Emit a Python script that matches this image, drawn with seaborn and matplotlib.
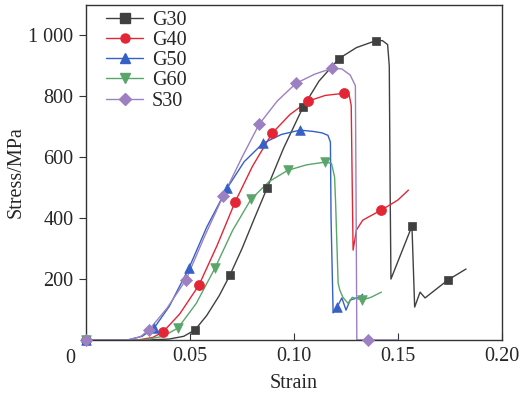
import numpy as np
import pandas as pd
import matplotlib
matplotlib.use("Agg")
import matplotlib.pyplot as plt
import seaborn as sns
from matplotlib.lines import Line2D

# curve points (strain, stress MPa)
g30_x = [0, 0.03, 0.04, 0.047, 0.0524, 0.058, 0.064, 0.0692, 0.075, 0.081, 0.087, 0.095, 0.1043, 0.112,
         0.1216, 0.13, 0.1394, 0.1425, 0.145, 0.1458, 0.1462, 0.1466, 0.1567, 0.158, 0.1606, 0.163, 0.174, 0.1827]
g30_y = [0, 0, 3, 12, 33, 80, 145, 213, 300, 400, 498, 630, 764, 850,
         924, 960, 983, 983, 970, 900, 500, 200, 374, 108, 157, 138, 197, 233]
g30_mx = [0, 0.0524, 0.0692, 0.087, 0.1043, 0.1216, 0.1394, 0.1567, 0.174]
g30_my = [0, 33, 213, 498, 764, 924, 983, 374, 197]

g40_x = [0, 0.025, 0.032, 0.037, 0.045, 0.0543, 0.063, 0.0716, 0.08, 0.0894, 0.098, 0.1067, 0.115, 0.124,
         0.1265, 0.1275, 0.128, 0.1284, 0.130, 0.133, 0.1356, 0.1418, 0.146, 0.150, 0.155]
g40_y = [0, 0, 8, 26, 85, 180, 310, 452, 570, 678, 740, 784, 803, 810,
         805, 770, 500, 295, 361, 393, 403, 426, 443, 460, 492]
g40_mx = [0, 0.037, 0.0543, 0.0716, 0.0894, 0.1067, 0.124, 0.1418]
g40_my = [0, 26, 180, 452, 678, 784, 810, 426]

g50_x = [0, 0.02, 0.027, 0.0327, 0.04, 0.0495, 0.058, 0.0678, 0.076, 0.0851, 0.094, 0.1029, 0.109, 0.1135,
         0.1163, 0.1175, 0.1178, 0.1188, 0.1207, 0.123, 0.125, 0.127, 0.1317, 0.133]
g50_y = [0, 0, 12, 39, 110, 236, 370, 498, 585, 646, 675, 689, 685, 680,
         672, 650, 400, 89, 108, 138, 98, 131, 141, 150]
g50_mx = [0, 0.0327, 0.0495, 0.0678, 0.0851, 0.1029, 0.1207]
g50_my = [0, 39, 236, 498, 646, 689, 108]

g60_x = [0, 0.028, 0.037, 0.0442, 0.053, 0.062, 0.0705, 0.0793, 0.088, 0.097, 0.106, 0.1149, 0.118, 0.1195,
         0.120, 0.1212, 0.122, 0.1235, 0.126, 0.128, 0.1327, 0.137, 0.142]
g60_y = [0, 0, 12, 39, 120, 236, 360, 462, 520, 557, 575, 584, 580, 535,
         450, 187, 164, 140, 120, 140, 131, 140, 157]
g60_mx = [0, 0.0442, 0.062, 0.0793, 0.097, 0.1149, 0.1327]
g60_my = [0, 39, 236, 462, 557, 584, 131]

s30_x = [0, 0.02, 0.026, 0.0303, 0.039, 0.048, 0.057, 0.0659, 0.075, 0.0832, 0.092, 0.101, 0.11, 0.1183,
         0.123, 0.127, 0.1295, 0.1298, 0.1302, 0.1356, 0.15]
s30_y = [0, 0, 10, 33, 105, 197, 340, 472, 600, 708, 785, 843, 873, 892,
         890, 870, 835, 500, 0, 0, 0]
s30_mx = [0, 0.0303, 0.048, 0.0659, 0.0832, 0.101, 0.1183, 0.1356]
s30_my = [0, 33, 197, 472, 708, 843, 892, 0]

names = ["G30", "G40", "G50", "G60", "S30"]
colors = ["#404040", "#e32636", "#3560c8", "#5aa66a", "#9d80c2"]
markers = ["s", "o", "^", "v", "D"]
msizes = [40, 52, 48, 48, 38]

curves = [(g30_x, g30_y, g30_mx, g30_my), (g40_x, g40_y, g40_mx, g40_my),
          (g50_x, g50_y, g50_mx, g50_my), (g60_x, g60_y, g60_mx, g60_my),
          (s30_x, s30_y, s30_mx, s30_my)]

sns.set_style("ticks")
plt.rcParams['font.family'] = ['Liberation Serif', 'DejaVu Serif']
fs = 14.5

fig = plt.figure(figsize=(5.29, 3.99), dpi=100)
ax = fig.add_axes([0.1626, 0.148, 0.7864, 0.8395])

for (cx, cy, mx, my), name, c, m, s in zip(curves, names, colors, markers, msizes):
    line_df = pd.DataFrame({"strain": cx, "stress": cy})
    sns.lineplot(data=line_df, x="strain", y="stress", sort=False, estimator=None,
                 color=c, linewidth=1.0, ax=ax)
    mk_df = pd.DataFrame({"strain": mx, "stress": my})
    sns.scatterplot(data=mk_df, x="strain", y="stress", marker=m, s=s, color=c,
                    edgecolor=c, linewidth=0.5, ax=ax, zorder=3, clip_on=False)

ax.set_xlim(0, 0.20)
ax.set_ylim(0, 1100)
ax.set_xticks([0.05, 0.10, 0.15, 0.20])
ax.set_xticklabels(["0.05", "0.10", "0.15", "0.20"])
ax.set_yticks([200, 400, 600, 800, 1000])
ax.set_yticklabels(["200", "400", "600", "800", "1 000"])
ax.tick_params(axis='x', direction='in', length=5, labelsize=fs, pad=5, color='#333333')
ax.tick_params(axis='y', direction='out', length=5, labelsize=fs, pad=4, color='#333333')
ax.text(-0.038, -0.028, "0", transform=ax.transAxes, ha='center', va='top', fontsize=fs)
ax.set_xlabel("Strain", fontsize=fs, labelpad=6)
ax.set_ylabel("Stress/MPa", fontsize=fs, labelpad=2)
for sp in ax.spines.values():
    sp.set_color('#333333')
    sp.set_linewidth(1.0)

handles = [Line2D([0], [0], color=c, marker=m, markersize=6.5, linewidth=1.0, label=n)
           for n, c, m in zip(names, colors, markers)]
ax.legend(handles=handles, loc='upper left', frameon=False, fontsize=fs,
          handlelength=1.8, handletextpad=0.45, labelspacing=0.05,
          borderaxespad=0.1, bbox_to_anchor=(0.025, 1.012))

fig.savefig("out.png", dpi=100)
